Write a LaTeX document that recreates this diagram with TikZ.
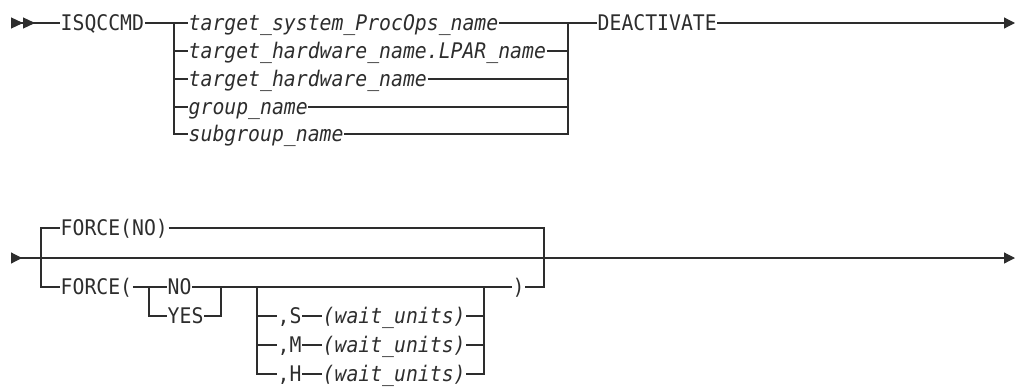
\documentclass[tikz,border=0pt]{standalone}
\usepackage{fontspec}
\setmonofont[FakeStretch=0.92]{DejaVu Sans Mono}
\usetikzlibrary{arrows.meta}
\definecolor{railgray}{RGB}{45,45,45}
\tikzset{
  kw/.style={anchor=west, inner xsep=0.5pt, inner ysep=0pt, text height=15.7pt,
    text depth=0pt, text=railgray, font=\fontsize{21.5}{26}\selectfont\ttfamily},
  var/.style={kw, font=\fontsize{21.5}{26}\selectfont\ttfamily\itshape},
  rail/.style={line width=1.2pt, railgray},
  endtip/.style={-{Triangle[length=11pt,width=11pt]}}
}
\begin{document}
\begin{tikzpicture}[x=1pt,y=-1pt]
  \useasboundingbox (0,0) rectangle (1015,386);
  % first line
  \coordinate (s1) at (11,23);
  \node[kw] (cmd) at (60,23) {ISQCCMD};
  \coordinate (j1) at (174,23);
  \node[var] (sys) at (188,23) {target\_system\_ProcOps\_name};
  \node[var] (lpar) at (188,51) {target\_hardware\_name.LPAR\_name};
  \node[var] (hw) at (188,79) {target\_hardware\_name};
  \node[var] (grp) at (188,107) {group\_name};
  \node[var] (sub) at (188,134) {subgroup\_name};
  \coordinate (k1) at (568,23);
  \node[kw] (deact) at (597,23) {DEACTIVATE};
  \coordinate (e1) at (1015,23);

  \draw[rail,{Triangle[reversed,length=12pt,width=11pt]Triangle[reversed,length=12pt,width=11pt]}-] (s1) -- (cmd);
  \draw[rail] (cmd) -- (j1) -- (sys);
  \draw[rail] (j1) |- (sub.west);
  \foreach \n in {lpar,hw,grp}
    \draw[rail] (j1 |- \n.west) -- (\n.west);
  \draw[rail] (sys) -- (k1) -- (deact);
  \draw[rail] (sub.east) -| (k1);
  \foreach \n in {lpar,hw,grp}
    \draw[rail] (\n.east) -- (k1 |- \n.east);
  \draw[rail,endtip] (deact) -- (e1);

  % second line
  \coordinate (s2) at (11,258);
  \coordinate (b1) at (41,258);
  \node[kw] (fno) at (60,228) {FORCE(NO)};
  \node[kw] (fopen) at (60,287) {FORCE(};
  \coordinate (c1) at (149,287);
  \node[kw] (no) at (167,287) {NO};
  \node[kw] (yes) at (167,316) {YES};
  \coordinate (c2) at (221,287);
  \coordinate (d1) at (257,287);
  \node[kw] (cs) at (277,316) {,S};
  \node[kw] (cm) at (277,345) {,M};
  \node[kw] (ch) at (277,374) {,H};
  \node[var] (ws) at (322,316) {(wait\_units)};
  \node[var] (wm) at (322,345) {(wait\_units)};
  \node[var] (wh) at (322,374) {(wait\_units)};
  \coordinate (d2) at (484,287);
  \node[kw] (close) at (512,287) {)};
  \coordinate (b2) at (544,258);
  \coordinate (e2) at (1015,258);

  \draw[rail,{Triangle[reversed,length=11pt,width=11pt]}-{Triangle[length=11pt,width=11pt]}] (s2) -- (b1) -- (b2) -- (e2);
  \draw[rail] (b1) |- (fno.west);
  \draw[rail] (b1) |- (fopen.west);
  \draw[rail] (fno.east) -| (b2);
  \draw[rail] (close.east) -| (b2);
  \draw[rail] (fopen) -- (c1) -- (no);
  \draw[rail] (c1) |- (yes.west);
  \draw[rail] (no) -- (c2) -- (d1) -- (d2) -- (close);
  \draw[rail] (yes.east) -| (c2);
  \draw[rail] (d1) |- (ch.west);
  \foreach \n in {cs,cm}
    \draw[rail] (d1 |- \n.west) -- (\n.west);
  \foreach \a/\b in {cs/ws,cm/wm,ch/wh}
    \draw[rail] (\a) -- (\b);
  \draw[rail] (wh.east) -| (d2);
  \foreach \n in {ws,wm}
    \draw[rail] (\n.east) -- (d2 |- \n.east);
\end{tikzpicture}
\end{document}
